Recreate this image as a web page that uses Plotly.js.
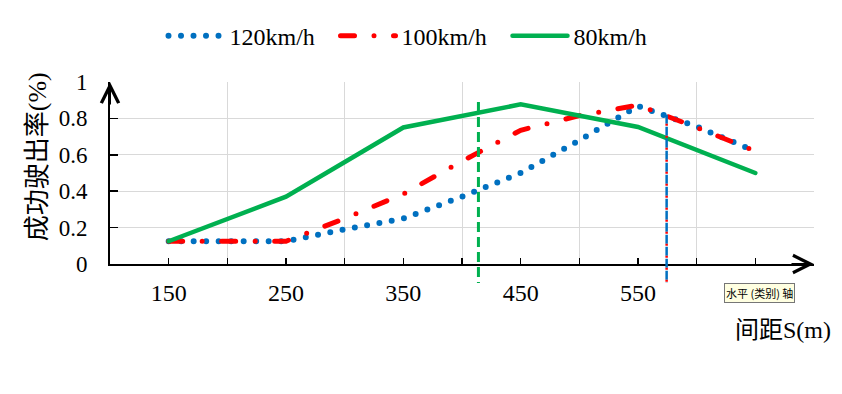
<!DOCTYPE html>
<html>
<head>
<meta charset="utf-8">
<script src="https://cdn.plot.ly/plotly-3.0.1.min.js"></script>
<style>
  html, body { margin: 0; padding: 0; background: #fff; }
  #chart { width: 842px; height: 394px; }
  .js-line { stroke-linecap: round !important; }
</style>
</head>
<body>
<div id="chart"></div>
<script>
// ---- data ----
const seriesNames = ['120km/h', '100km/h', '80km/h'];
const xSpacing = [150, 200, 250, 300, 350, 400, 450, 500, 550, 600, 650];
const rate120 = [0.125, 0.125, 0.125, 0.19, 0.25, 0.37, 0.50, 0.68, 0.868, 0.755, 0.62];
const rate100 = [0.125, 0.125, 0.125, 0.25, 0.385, 0.565, 0.735, 0.815, 0.873, 0.75, 0.62];
const xSpacing80 = [150, 250, 350, 450, 550, 650];
const rate80 = [0.125, 0.37, 0.75, 0.877, 0.753, 0.5];
const xTickVals = [150, 250, 350, 450, 550, 650];
const xTickText = ['150', '250', '350', '450', '550', ''];
const xGridVals = [200, 300, 400, 500, 600, 700];
const yTickVals = [0, 0.2, 0.4, 0.6, 0.8, 1];
const yTickText = ['0', '0.2', '0.4', '0.6', '0.8', '1'];
const guideX = [414, 574.4];
const guideTop = [0.89, 0.82];
const guideBottom = -0.104;

const serif = 'Liberation Serif, "Times New Roman", serif';
const cjk = 'Liberation Serif, "Noto Sans CJK SC", serif';

const traces = [
  { x: xSpacing, y: rate120, name: seriesNames[0], type: 'scatter', mode: 'lines',
    line: { color: '#0070C0', width: 6, dash: '0px,12.5px' } },
  { x: xSpacing, y: rate100, name: seriesNames[1], type: 'scatter', mode: 'lines',
    line: { color: '#FF0000', width: 5, dash: '14px,19.5px,0px,19.5px' } },
  { x: xSpacing80, y: rate80, name: seriesNames[2], type: 'scatter', mode: 'lines',
    line: { color: '#00B050', width: 4.5 } }
];

const layout = {
  width: 842, height: 394,
  margin: { l: 110, r: 28, t: 82, b: 130 },
  paper_bgcolor: '#fff', plot_bgcolor: '#fff',
  showlegend: true,
  legend: {
    orientation: 'h', x: 0.076, xanchor: 'left', y: 1.252, yanchor: 'middle',
    font: { family: serif, size: 24, color: '#000' },
    itemwidth: 56, entrywidth: 101, entrywidthmode: 'pixels',
    bgcolor: 'rgba(0,0,0,0)'
  },
  xaxis: {
    range: [100, 700], showline: true, linecolor: '#000', linewidth: 2,
    tickmode: 'array', tickvals: xTickVals, ticktext: xTickText,
    ticks: 'inside', ticklen: 6, tickwidth: 1.5, tickcolor: '#000',
    showgrid: false, zeroline: false,
    ticklabelstandoff: 6,
    tickfont: { family: serif, size: 24, color: '#000' },
    minor: { tickmode: 'array', tickvals: xGridVals, ticks: 'inside', ticklen: 6,
             tickwidth: 1.5, tickcolor: '#000', showgrid: true, gridcolor: '#d9d9d9', gridwidth: 1 }
  },
  yaxis: {
    range: [0, 1], showline: true, linecolor: '#000', linewidth: 2,
    tickmode: 'array', tickvals: yTickVals, ticktext: yTickText,
    ticks: 'inside', ticklen: 8, tickwidth: 1.5, tickcolor: '#000',
    showgrid: true, gridcolor: '#d9d9d9', gridwidth: 1, zeroline: false,
    ticklabelstandoff: 16,
    tickfont: { family: serif, size: 23, color: '#000' }
  },
  shapes: [
    { type: 'line', xref: 'x', yref: 'paper', x0: guideX[0], x1: guideX[0], y0: guideTop[0], y1: guideBottom,
      line: { color: '#00B050', width: 3, dash: '10px,5px' } },
    { type: 'line', xref: 'x', yref: 'paper', x0: guideX[1], x1: guideX[1], y0: guideTop[1], y1: guideBottom,
      line: { color: '#0070C0', width: 2.5, dash: '9px,3px' } },
    { type: 'line', xref: 'x', yref: 'paper', x0: guideX[1], x1: guideX[1], y0: guideTop[1], y1: guideBottom,
      line: { color: '#FF0000', width: 2.5, dash: '0px,9px,2px,1px' } }
  ],
  annotations: [
    // axis arrowheads
    { xref: 'x', yref: 'y', x: 700, y: 0, ax: -24, ay: 0, text: '', showarrow: true,
      arrowhead: 5, arrowsize: 1.7, arrowwidth: 2, arrowcolor: '#000', standoff: 0 },
    { xref: 'x', yref: 'y', x: 100, y: 1, ax: 0, ay: 24, text: '', showarrow: true,
      arrowhead: 5, arrowsize: 1.7, arrowwidth: 2, arrowcolor: '#000', standoff: 0 },
    // axis titles
    { xref: 'paper', yref: 'paper', x: -0.1037, y: 0.592, xanchor: 'center', yanchor: 'middle',
      text: '成功驶出率(%)', textangle: -90, showarrow: false,
      font: { family: cjk, size: 26, color: '#000' } },
    { xref: 'paper', yref: 'paper', x: 1.027, y: -0.363, xanchor: 'right', yanchor: 'middle',
      text: '间距S(m)', showarrow: false,
      font: { family: cjk, size: 24, color: '#000' } },
    // tooltip
    { xref: 'paper', yref: 'paper', x: 0.9226, y: -0.159, xanchor: 'center', yanchor: 'middle',
      text: '水平 (类别) 轴', showarrow: false,
      bgcolor: '#ffffe1', borderpad: 1, borderwidth: 1, bordercolor: '#767676',
      font: { family: '"Noto Sans CJK SC", sans-serif', size: 11, color: '#000' } }
  ]
};

Plotly.newPlot('chart', traces, layout, { displayModeBar: false, staticPlot: true }).then(function (gd) {
  gd.querySelectorAll('.legendlines path').forEach(function (p) { p.setAttribute('d', 'M5,0h55'); });
});
</script>
</body>
</html>
